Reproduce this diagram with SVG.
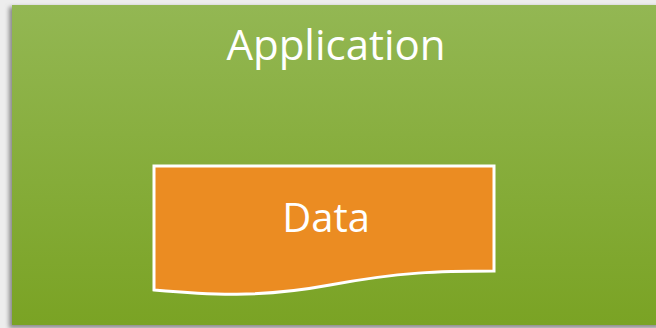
<svg xmlns="http://www.w3.org/2000/svg" width="656" height="328" viewBox="0 0 656 328">
  <defs>
    <linearGradient id="g" x1="0" y1="0" x2="0" y2="1">
      <stop offset="0" stop-color="#93b753"/>
      <stop offset="1" stop-color="#7aa324"/>
    </linearGradient>
    <filter id="sh" x="-5%" y="-5%" width="110%" height="110%">
      <feGaussianBlur stdDeviation="2"/>
    </filter>
    <style>
      .t { font-family: "Open Sans", "Liberation Sans", sans-serif; fill: #ffffff; text-anchor: middle; }
    </style>
  </defs>
  <rect x="0" y="0" width="656" height="328" fill="#ededed"/>
  <g id="application">
    <rect x="9" y="7" width="650" height="321" fill="#8a8a8a" filter="url(#sh)"/>
    <rect x="12" y="5" width="644" height="320" fill="url(#g)"/>
    <text class="t" x="336" y="60" font-size="42">Application</text>
  </g>
  <g id="data">
    <path d="M154,166 H494 V271 C440,271 400,272 330,285 C260,298 210,295 154,290 Z" fill="#eb8c22" stroke="#ffffff" stroke-width="3"/>
    <text class="t" x="326" y="232" font-size="40">Data</text>
  </g>
  <g id="connectors"/>
</svg>
